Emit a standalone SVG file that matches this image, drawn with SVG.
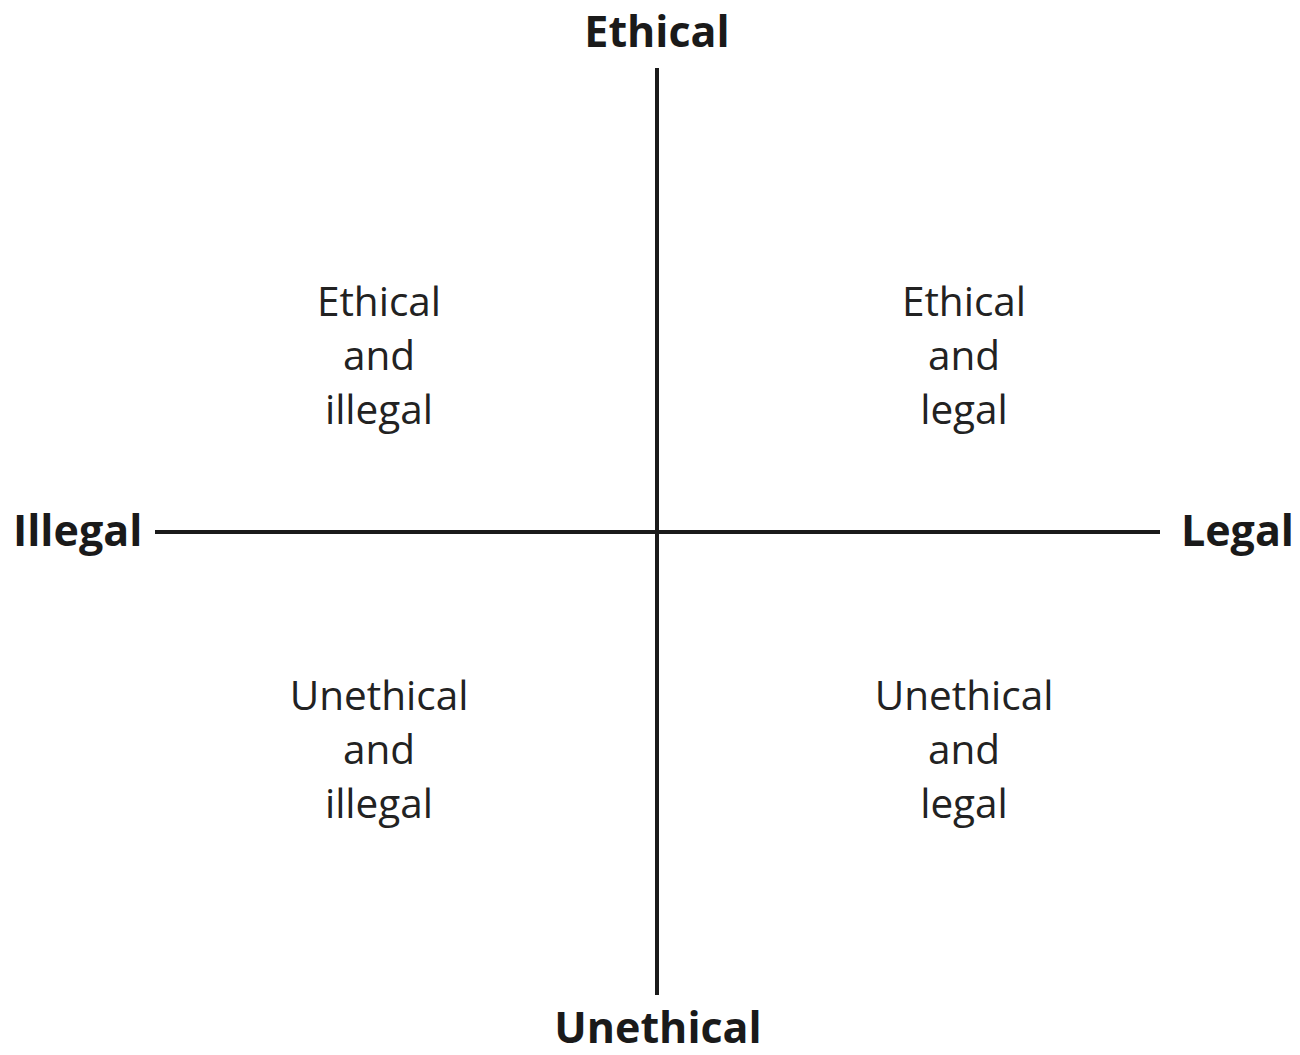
<svg xmlns="http://www.w3.org/2000/svg" width="1300" height="1055" viewBox="0 0 1300 1055">
<style>
.axis{stroke:#1a1a1a;stroke-width:4;fill:none}
.lbl{font-family:"Open Sans","Noto Sans",sans-serif;font-weight:700;font-size:43px;fill:#1a1a1a}
.q{font-family:"Open Sans","Noto Sans",sans-serif;font-size:40.5px;fill:#222;text-anchor:middle}
</style>
<rect width="1300" height="1055" fill="#fff"/>
<g id="connectors">
<line class="axis" x1="657" y1="68" x2="657" y2="995"/>
<line class="axis" x1="155" y1="532" x2="1160" y2="532"/>
</g>
<g id="ethical"><text class="lbl" x="657" y="47" text-anchor="middle">Ethical</text></g>
<g id="unethical"><text class="lbl" x="658" y="1043" text-anchor="middle">Unethical</text></g>
<g id="illegal"><text class="lbl" x="13" y="546">Illegal</text></g>
<g id="legal"><text class="lbl" x="1294" y="546" text-anchor="end">Legal</text></g>
<g id="q-ethical-illegal"><text class="q" x="379" y="316">Ethical</text><text class="q" x="379" y="370">and</text><text class="q" x="379" y="424">illegal</text></g>
<g id="q-ethical-legal"><text class="q" x="964" y="316">Ethical</text><text class="q" x="964" y="370">and</text><text class="q" x="964" y="424">legal</text></g>
<g id="q-unethical-illegal"><text class="q" x="379" y="710">Unethical</text><text class="q" x="379" y="764">and</text><text class="q" x="379" y="818">illegal</text></g>
<g id="q-unethical-legal"><text class="q" x="964" y="710">Unethical</text><text class="q" x="964" y="764">and</text><text class="q" x="964" y="818">legal</text></g>
</svg>
